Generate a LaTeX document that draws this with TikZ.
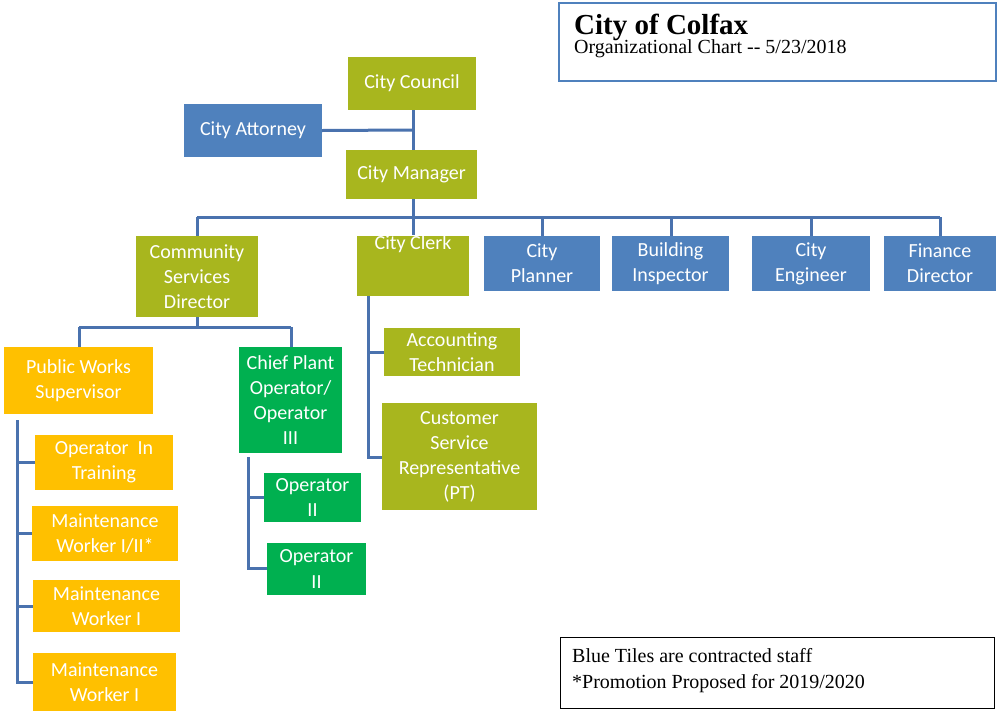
\documentclass[tikz,border=0pt]{standalone}
\usepackage{fontspec}
\setmainfont{Carlito}
\newfontfamily\serif{Liberation Serif}
\definecolor{olive}{HTML}{A8B61E}
\definecolor{tblue}{HTML}{4F81BD}
\definecolor{orng}{HTML}{FFC000}
\definecolor{grn}{HTML}{00B050}
\definecolor{ln}{HTML}{4A72AE}
\begin{document}
\begin{tikzpicture}[x=1pt,y=-1pt,
  box/.style={draw=none,text=white,font=\fontsize{20}{25}\selectfont,align=center,inner sep=0pt},
  con/.style={draw=ln,line width=3pt}]
\useasboundingbox (0,0) rectangle (1000,715);
\newcommand\bx[6]{\fill[#6] (#2,#3) rectangle (#4,#5); \node[box] (#1) at ({(#2+#4)/2},{(#3+#5)/2}) {#1};}
\def\B#1#2#3#4#5#6#7{\fill[#6] (#2,#3) rectangle (#4,#5); \node[box,minimum width={#4-#2},minimum height={#5-#3}] (#1) at ({(#2+#4)/2},{(#3+#5)/2}) {#7};}
\B{council}{348}{57}{476}{110}{olive}{City Council}
\B{attorney}{184}{104}{322}{157}{tblue}{City Attorney}
\B{manager}{346}{150}{477}{199}{olive}{City Manager}
\B{csd}{136}{236}{258}{317}{olive}{Community\\Services\\Director}
\B{clerk}{357}{236}{469}{296}{olive}{City Clerk\\[22pt]}
\B{planner}{484}{236}{600}{291}{tblue}{City\\Planner}
\B{building}{612}{236}{729}{291}{tblue}{Building\\Inspector}
\B{engineer}{752}{236}{870}{291}{tblue}{City\\Engineer}
\B{finance}{884}{236}{996}{291}{tblue}{Finance\\Director}
\B{pws}{4}{347}{153}{414}{orng}{Public Works\\Supervisor}
\B{chief}{239}{347}{342}{453}{grn}{Chief Plant\\Operator/\\Operator\\III}
\B{acct}{384}{328}{520}{376}{olive}{Accounting\\Technician}
\B{csr}{382}{403}{537}{510}{olive}{Customer\\Service\\Representative\\(PT)}
\B{oit}{35}{435}{173}{490}{orng}{Operator~ In\\Training}
\B{mw1}{32}{506}{178}{561}{orng}{Maintenance\\Worker I/II*}
\B{mw2}{33}{580}{180}{632}{orng}{Maintenance\\Worker I}
\B{mw3}{33}{653}{176}{711}{orng}{Maintenance\\Worker I}
\B{op1}{264}{473}{361}{522}{grn}{Operator\\II}
\B{op2}{267}{543}{366}{595}{grn}{Operator\\II}
% title and legend
\node[draw=tblue,line width=2.5pt,minimum width=437pt,minimum height=78pt,inner sep=0pt] (title) at (777.5,42) {};
\node[anchor=north west,align=left,inner sep=0pt,font=\serif] (tt) at (574,14)
  {{\fontsize{29}{32}\selectfont\bfseries City of Colfax}\\[-2pt]{\fontsize{20}{24}\selectfont Organizational Chart -- 5/23/2018}};
\node[draw=black,line width=1pt,minimum width=434pt,minimum height=71pt,inner sep=0pt] (legend) at (777,672.5) {};
\node[anchor=north west,align=left,inner sep=0pt,font=\serif\fontsize{20}{26}\selectfont] (lt) at (572,648)
  {Blue Tiles are contracted staff\\*Promotion Proposed for 2019/2020};
% connectors
\coordinate (j1) at (413,130);
\draw[con] (council.south -| 413,0) -- (manager.north -| 413,0);
\draw[con] (attorney.east) -- (j1);
\draw[con] (413,120) -- (413,140);
\coordinate (bus) at (413,217);
\draw[con] (manager.south -| 413,0) -- (bus);
\draw[con] (197,217) -- (940,217);
\foreach \n/\x in {csd/197,clerk/413,planner/542,building/671,engineer/811,finance/940}
  \draw[con] (\x,217) -- (\n.north -| \x,0);
\draw[con] (csd.south) -- (197,327);
\draw[con] (79,327) -- (291,327);
\draw[con] (79,327) -- (pws.north -| 79,0);
\draw[con] (291,327) -- (chief.north -| 291,0);
\draw[con] (17,420) -- (17,682) -- (mw3.west |- 0,682);
\foreach \n/\y in {oit/462,mw1/533,mw2/606}
  \draw[con] (17,\y) -- (\n.west |- 0,\y);
\draw[con] (248,457) -- (248,568) -- (op2.west |- 0,568);
\draw[con] (248,497) -- (op1.west |- 0,497);
\draw[con] (368,296) -- (368,457) -- (csr.west |- 0,457);
\draw[con] (368,352) -- (acct.west |- 0,352);
\end{tikzpicture}
\end{document}
